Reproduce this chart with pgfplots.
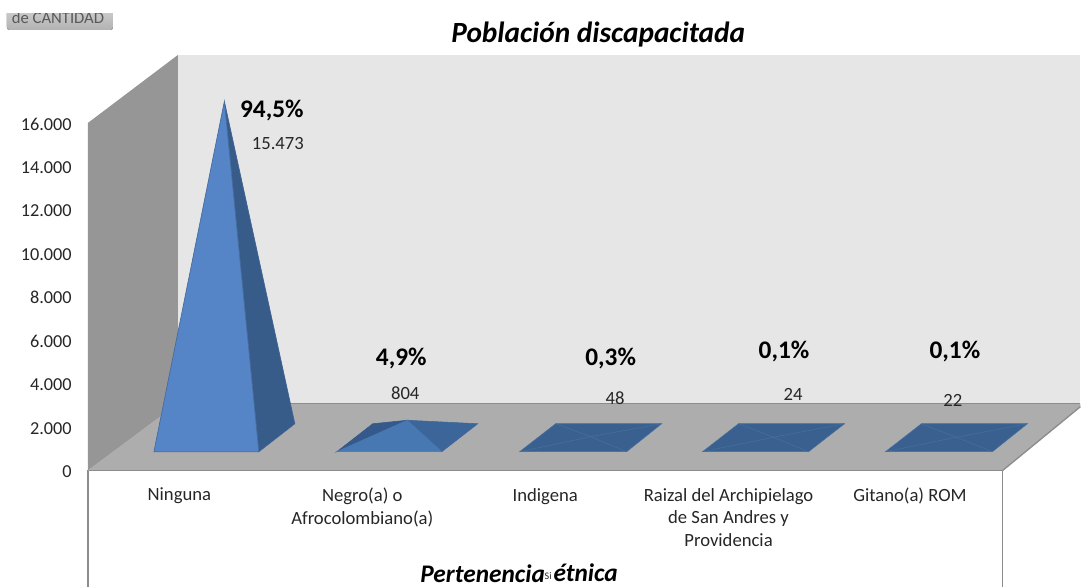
\documentclass[border=0pt]{standalone}
\usepackage{pgfplots}
\pgfplotsset{compat=1.18}
\usepackage{fontspec}
\setmainfont{Carlito}
\definecolor{wallL}{HTML}{969696}
\definecolor{wallB}{HTML}{E6E6E6}
\definecolor{floorC}{HTML}{ADADAD}
\definecolor{frameC}{HTML}{8C8C8C}
\definecolor{txt}{HTML}{262626}
\definecolor{pF}{HTML}{5585C6}
\definecolor{pR}{HTML}{375C8A}
\definecolor{qF}{HTML}{4878B2}
\definecolor{qL}{HTML}{35598A}
\definecolor{qR}{HTML}{3C659A}
\definecolor{fl}{HTML}{3A6090}
\definecolor{fe}{HTML}{466F9F}
% place text by picture position: x in pixels, y in pixels from the top
\newcommand{\lab}[4]{\node[font=#1,text=#2,inner sep=0pt,anchor=center,align=center] at (axis cs:#3) {#4};}
\newcommand{\Y}[1]{{(471-#1)*45.977}}
\begin{document}
\begin{tikzpicture}
\begin{axis}[
  width=810.75pt, height=440.25pt, scale only axis,
  xmin=0, xmax=1081, ymin=-5333, ymax=21655,
  clip=false,
  axis line style={draw=none},
  tick style={draw=none},
  major tick length=0pt,
  ytick={0,2000,4000,6000,8000,10000,12000,14000,16000},
  yticklabel style={anchor=east, xshift=54pt, yshift=-0.75pt, inner xsep=0pt, text=txt, font=\fontsize{13.7}{16}\selectfont,
    /pgf/number format/.cd, 1000 sep={.}, assume math mode=true},
  scaled y ticks=false,
  xtick={179.5,362.5,545.5,729,910.5},
  xticklabels={Ninguna,{Negro(a) o\\Afrocolombiano(a)},Indigena,{Raizal del Archipielago\\de San Andres y\\Providencia},{Gitano(a) ROM}},
  xticklabel style={anchor=north, align=center, yshift=77.5pt, text=txt, font=\fontsize{14}{17}\selectfont},
]
% walls and floor
\addplot[fill=wallB,draw=none] coordinates {(178,19126)(1081,19126)(1081,3080)(178,3080)} -- cycle;
\addplot[fill=wallL,draw=none] coordinates {(88,16000)(178,19126)(178,3080)(88,0)} -- cycle;
\addplot[fill=floorC,draw=none] coordinates {(88,0)(178,3080)(1081,3080)(1081,2943)(1003,0)} -- cycle;
\addplot[frameC,line width=1pt] coordinates {(88,-5333)(88,0)(1003,0)(1003,-5333)};
\addplot[frameC,line width=1pt] coordinates {(1003,0)(1081,2943)};
\addplot[draw=frameC!70,line width=0.4pt] coordinates {(88,0)(178,3080)};
\addplot[draw=frameC,line width=0.5pt] coordinates {(178,3080)(1081,3080)};
% Ninguna 15473
\addplot[fill=pR,draw=pR!80!pF,line width=0.5pt] coordinates {(259,874)(295,2161)(224.5,16990)} -- cycle;
\addplot[fill=pF,draw=pF!80!black,line width=0.5pt] coordinates {(154,874)(259,874)(224.5,16990)} -- cycle;
% Negro 804
\addplot[fill=qL,draw=qL,line width=0.4pt] coordinates {(337,874)(373,2161)(407.5,2321)} -- cycle;
\addplot[fill=qR,draw=qR,line width=0.4pt] coordinates {(442,874)(478,2161)(407.5,2321)} -- cycle;
\addplot[fill=qF,draw=qF,line width=0.4pt] coordinates {(337,874)(442,874)(407.5,2321)} -- cycle;
% Indigena 48
\addplot[fill=fl,draw=fe,line width=0.4pt] coordinates {(520,874)(627,874)(662,2161)(556,2161)} -- cycle;
\addplot[draw=fe,line width=0.4pt] coordinates {(520,874)(591,1565)(662,2161)};
\addplot[draw=fe,line width=0.4pt] coordinates {(627,874)(591,1565)(556,2161)};
% Raizal 24
\addplot[fill=fl,draw=fe,line width=0.4pt] coordinates {(703,874)(809,874)(845,2161)(739,2161)} -- cycle;
\addplot[draw=fe,line width=0.4pt] coordinates {(703,874)(774,1541)(845,2161)};
\addplot[draw=fe,line width=0.4pt] coordinates {(809,874)(774,1541)(739,2161)};
% Gitano 22
\addplot[fill=fl,draw=fe,line width=0.4pt] coordinates {(886,874)(993,874)(1028,2161)(922,2161)} -- cycle;
\addplot[draw=fe,line width=0.4pt] coordinates {(886,874)(957,1539)(1028,2161)};
\addplot[draw=fe,line width=0.4pt] coordinates {(993,874)(957,1539)(922,2161)};
% data labels
\def\pc{\fontsize{19}{20}\selectfont\bfseries}
\def\nm{\fontsize{14}{16}\selectfont}
\lab{\pc}{black}{272,\Y{110.5}}{94,5\%}
\lab{\nm}{txt}{278,\Y{143.5}}{15.473}
\lab{\pc}{black}{401.5,\Y{358.5}}{4,9\%}
\lab{\nm}{txt}{405.5,\Y{393.5}}{804}
\lab{\pc}{black}{611,\Y{358.5}}{0,3\%}
\lab{\nm}{txt}{615.5,\Y{398.5}}{48}
\lab{\pc}{black}{784.5,\Y{351.5}}{0,1\%}
\lab{\nm}{txt}{793.5,\Y{394.5}}{24}
\lab{\pc}{black}{955.5,\Y{351.5}}{0,1\%}
\lab{\nm}{txt}{953.5,\Y{400.5}}{22}
% titles
\lab{\fontsize{22}{24}\selectfont\bfseries\itshape}{black}{598.5,\Y{34.5}}{Población  discapacitada}
\lab{\fontsize{19}{21}\selectfont\bfseries\itshape}{black}{483,\Y{574.5}}{Pertenencia}
\lab{\fontsize{19}{21}\selectfont\bfseries\itshape}{black}{586,\Y{573.5}}{étnica}
\lab{\fontsize{7.5}{8}\selectfont}{txt}{548.5,\Y{576}}{Si}
% button
\fill[rounded corners=2pt,top color=white!82!black,bottom color=white!70!black]
  (axis cs:7,\Y{6}) rectangle (axis cs:113,\Y{30});
\lab{\fontsize{12.5}{14}\selectfont}{black!65}{58,\Y{18}}{de CANTIDAD}
\fill[white] (axis cs:0,\Y{0}) rectangle (axis cs:130,\Y{13.5});
\end{axis}
\end{tikzpicture}
\end{document}
